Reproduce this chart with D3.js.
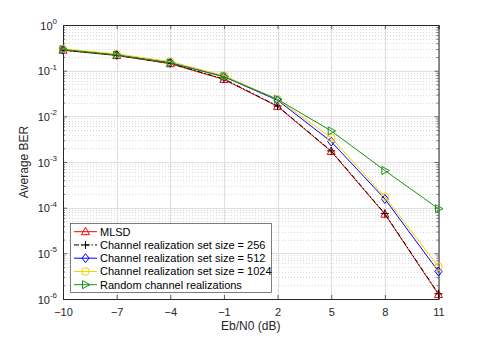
<!DOCTYPE html>
<html>
<head>
<meta charset="utf-8">
<script src="https://cdn.jsdelivr.net/npm/d3@7"></script>
<style>
  body { margin: 0; background: #fff; }
  svg { display: block; font-family: "Liberation Sans", Arial, sans-serif; }
</style>
</head>
<body>
<svg id="chart" width="485" height="337"></svg>
<script>
// Données
const ebn0 = [-10, -7, -4, -1, 2, 5, 8, 11];
const berMLSD = [0.28, 0.215, 0.142, 0.064, 0.0165, 0.0017, 7.2e-5, 1.25e-6];
const berSet256 = [0.28, 0.217, 0.144, 0.066, 0.0168, 0.00175, 7.4e-5, 1.3e-6];
const berSet512 = [0.29, 0.222, 0.15, 0.074, 0.0225, 0.0028, 1.55e-4, 4.0e-6];
const berSet1024 = [0.3, 0.232, 0.158, 0.078, 0.0235, 0.0034, 1.74e-4, 5.1e-6];
const berRandom = [0.29, 0.22, 0.148, 0.074, 0.0235, 0.0048, 6.5e-4, 9.5e-5];

const xTicks = [-10, -7, -4, -1, 2, 5, 8, 11];
const yExponents = [0, -1, -2, -3, -4, -5, -6];

const series = [
  { name: "MLSD", values: berMLSD, color: "#ff0000", marker: "triangle", dash: null },
  { name: "Channel realization set size = 256", values: berSet256, color: "#000000", marker: "plus", dash: "5,2,1.5,2" },
  { name: "Channel realization set size = 512", values: berSet512, color: "#0000ff", marker: "diamond", dash: null },
  { name: "Channel realization set size = 1024", values: berSet1024, color: "#f5cf00", marker: "circle", dash: null },
  { name: "Random channel realizations", values: berRandom, color: "#139613", marker: "right", dash: null },
];

const plot = { left: 63, right: 438.5, top: 25, bottom: 299 };
const axisColor = "#262626";

const svg = d3.select("#chart");

const x = d3.scaleLinear().domain([-10, 11]).range([plot.left, plot.right]);
const y = d3.scaleLog().domain([1e-6, 1]).range([plot.bottom, plot.top]);

// Grille mineure (log)
const minorVals = [];
for (let e = -6; e < 0; e++) {
  for (let k = 2; k <= 9; k++) minorVals.push(k * Math.pow(10, e));
}

const grid = svg.append("g");
grid.selectAll("line.minor")
  .data(minorVals)
  .enter()
  .append("line")
  .attr("x1", plot.left)
  .attr("x2", plot.right)
  .attr("y1", (d) => Math.round(y(d)) + 0.5)
  .attr("y2", (d) => Math.round(y(d)) + 0.5)
  .attr("stroke", "#d0d0d0")
  .attr("stroke-width", 0.8)
  .attr("stroke-dasharray", "1,2");

grid.selectAll("line.hmajor")
  .data(yExponents.map((e) => Math.pow(10, e)))
  .enter()
  .append("line")
  .attr("x1", plot.left)
  .attr("x2", plot.right)
  .attr("y1", (d) => Math.round(y(d)) + 0.5)
  .attr("y2", (d) => Math.round(y(d)) + 0.5)
  .attr("stroke", "#dedede")
  .attr("stroke-width", 1);

grid.selectAll("line.vmajor")
  .data(xTicks)
  .enter()
  .append("line")
  .attr("x1", (d) => Math.round(x(d)) + 0.5)
  .attr("x2", (d) => Math.round(x(d)) + 0.5)
  .attr("y1", plot.top)
  .attr("y2", plot.bottom)
  .attr("stroke", "#dedede")
  .attr("stroke-width", 1);

// Axes (ticks vers l'intérieur)
const axB = svg.append("g")
  .attr("transform", "translate(0," + plot.bottom + ")")
  .call(d3.axisBottom(x).tickValues(xTicks).tickSize(-4).tickPadding(9).tickFormat(d3.format("d")));
const axT = svg.append("g")
  .attr("transform", "translate(0," + plot.top + ")")
  .call(d3.axisTop(x).tickValues(xTicks).tickSize(-4).tickFormat(""));
const axL = svg.append("g")
  .attr("transform", "translate(" + plot.left + ",0)")
  .call(d3.axisLeft(y).tickValues(yExponents.map((e) => Math.pow(10, e))).tickSize(-4).tickFormat(""));
const axR = svg.append("g")
  .attr("transform", "translate(" + plot.right + ",0)")
  .call(d3.axisRight(y).tickValues(yExponents.map((e) => Math.pow(10, e))).tickSize(-4).tickFormat(""));
const axLm = svg.append("g")
  .attr("transform", "translate(" + plot.left + ",0)")
  .call(d3.axisLeft(y).tickValues(minorVals).tickSize(-2).tickFormat(""));
const axRm = svg.append("g")
  .attr("transform", "translate(" + plot.right + ",0)")
  .call(d3.axisRight(y).tickValues(minorVals).tickSize(-2).tickFormat(""));

[axB, axT, axL, axR, axLm, axRm].forEach((a) => {
  a.selectAll("path").attr("stroke", axisColor).attr("stroke-width", 1);
  a.selectAll("line").attr("stroke", axisColor).attr("stroke-width", 0.7);
});
axLm.select("path").remove();
axRm.select("path").remove();
axB.selectAll("text")
  .attr("fill", axisColor)
  .style("font-size", "11px")
  .style("font-family", "'Liberation Sans', Arial, sans-serif");

// Labels Y : 10^n
const yLab = svg.append("g");
yExponents.forEach((e) => {
  const t = yLab.append("text")
    .attr("x", 57)
    .attr("y", y(Math.pow(10, e)) + 4.5)
    .attr("text-anchor", "end")
    .attr("fill", axisColor)
    .style("font-size", "11px");
  t.append("tspan").text("10");
  t.append("tspan")
    .attr("dy", -5.5)
    .style("font-size", "8px")
    .text(e);
});

// Titres des axes
svg.append("text")
  .attr("x", (plot.left + plot.right) / 2)
  .attr("y", 329.5)
  .attr("text-anchor", "middle")
  .attr("fill", axisColor)
  .style("font-size", "12px")
  .text("Eb/N0 (dB)");

svg.append("text")
  .attr("transform", "translate(28," + (plot.top + plot.bottom) / 2 + ") rotate(-90)")
  .attr("text-anchor", "middle")
  .attr("fill", axisColor)
  .style("font-size", "12px")
  .text("Average BER");

// Marqueurs
function drawMarker(g, type, cx, cy, color) {
  const s = 4;
  if (type === "triangle") {
    g.append("path")
      .attr("d", "M" + cx + "," + (cy - s - 0.5) + "L" + (cx + s) + "," + (cy + s - 1) + "L" + (cx - s) + "," + (cy + s - 1) + "Z")
      .attr("fill", "none").attr("stroke", color).attr("stroke-width", 1);
  } else if (type === "plus") {
    g.append("path")
      .attr("d", "M" + (cx - s) + "," + cy + "H" + (cx + s) + "M" + cx + "," + (cy - s) + "V" + (cy + s))
      .attr("fill", "none").attr("stroke", color).attr("stroke-width", 1);
  } else if (type === "diamond") {
    g.append("path")
      .attr("d", "M" + cx + "," + (cy - s - 0.5) + "L" + (cx + s - 0.5) + "," + cy + "L" + cx + "," + (cy + s + 0.5) + "L" + (cx - s + 0.5) + "," + cy + "Z")
      .attr("fill", "none").attr("stroke", color).attr("stroke-width", 1);
  } else if (type === "circle") {
    g.append("circle")
      .attr("cx", cx).attr("cy", cy).attr("r", 3.8)
      .attr("fill", "none").attr("stroke", color).attr("stroke-width", 1);
  } else if (type === "right") {
    g.append("path")
      .attr("d", "M" + (cx + s + 0.5) + "," + cy + "L" + (cx - s + 1) + "," + (cy - s) + "L" + (cx - s + 1) + "," + (cy + s) + "Z")
      .attr("fill", "none").attr("stroke", color).attr("stroke-width", 1);
  }
}

// Courbes
const line = d3.line()
  .x((d, i) => x(ebn0[i]))
  .y((d) => y(d));

const curves = svg.append("g");
series.forEach((s) => {
  curves.append("path")
    .attr("d", line(s.values))
    .attr("fill", "none")
    .attr("stroke", s.color)
    .attr("stroke-width", 1)
    .attr("stroke-dasharray", s.dash);
  const mg = curves.append("g");
  s.values.forEach((v, i) => drawMarker(mg, s.marker, x(ebn0[i]), y(v), s.color));
});

// Légende
const leg = { x: 70.5, y: 223.5, w: 201, h: 69 };
const legend = svg.append("g");
legend.append("rect")
  .attr("x", leg.x).attr("y", leg.y)
  .attr("width", leg.w).attr("height", leg.h)
  .attr("fill", "#fff")
  .attr("stroke", axisColor)
  .attr("stroke-width", 0.6);

series.forEach((s, i) => {
  const ly = 231.7 + i * 13.25;
  legend.append("line")
    .attr("x1", 74).attr("x2", 97)
    .attr("y1", ly).attr("y2", ly)
    .attr("stroke", s.color)
    .attr("stroke-width", 1)
    .attr("stroke-dasharray", s.dash);
  drawMarker(legend, s.marker, 85.5, ly, s.color);
  legend.append("text")
    .attr("x", 100)
    .attr("y", ly + 4)
    .attr("fill", "#000")
    .style("font-size", "11px")
    .text(s.name);
});
</script>
</body>
</html>
